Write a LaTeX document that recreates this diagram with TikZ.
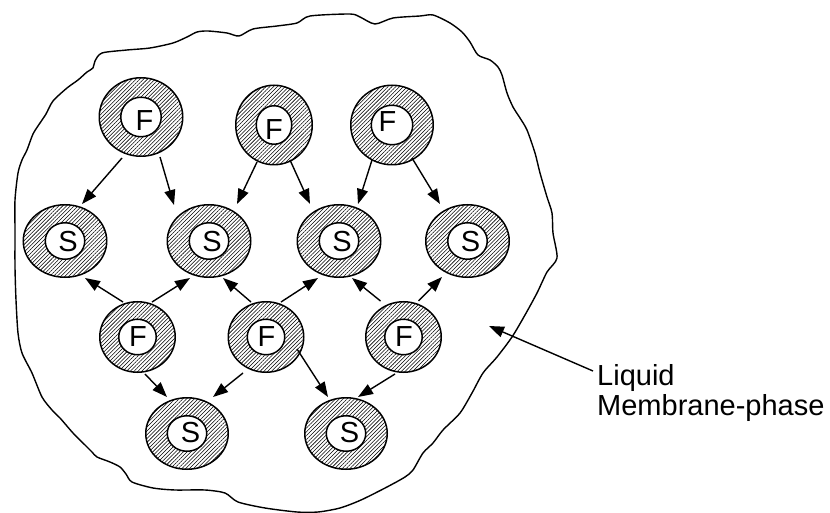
\documentclass[tikz,border=0pt]{standalone}
\usepackage{fontspec}
\setmainfont{Liberation Sans}
\usetikzlibrary{arrows.meta,patterns.meta,calc,shapes.geometric}

\begin{document}
\begin{tikzpicture}[x=1pt,y=-1pt,
  ring/.style={ellipse, draw=black, line width=1.5pt, inner sep=0pt,
    pattern={Lines[angle=45,distance=2.7pt,line width=0.55pt]}},
  core/.style={ellipse, draw=black, line width=1.5pt, fill=white, inner sep=0pt},
  letter/.style={inner sep=0pt, font=\fontsize{29pt}{30pt}\selectfont},
  flow/.style={line width=1.4pt, -{Triangle[length=15pt,width=11pt]}},
  blob/.style={line width=1.4pt, line join=round}
]
\useasboundingbox (0,0) rectangle (830,513);

% membrane outline
\draw[blob] plot[smooth cycle, tension=0.45] coordinates {
  (15,200) (15,230) (15,267) (16,300) (18,333) (22,353) (32,373) (42,397)
  (52,410) (60,418) (73,433) (85,445) (92,452) (97,457) (110,462) (120,467)
  (126,474) (132,482) (153,488) (175,490) (205,490) (225,493) (238,502)
  (265,508) (297,512) (318,512) (340,508) (361,500) (387,487) (405,477)
  (413,470) (423,453) (433,443) (443,430) (460,413) (472,393) (483,373)
  (497,357) (512,337) (525,315) (537,293) (547,272) (557,258) (553,233)
  (552,213) (547,197) (540,173) (535,153) (527,130) (520,118) (513,107)
  (507,93) (502,75) (498,67) (490,60) (478,55) (470,42) (462,32) (450,23)
  (433,15) (420,16) (393,18) (375,24) (360,17) (350,14) (310,16) (297,23)
  (277,26) (253,29) (239,36) (227,33) (208,31) (197,32) (187,37) (173,43)
  (150,48) (127,50) (102,53) (95,61) (93,68) (87,72) (78,80) (67,88)
  (53,101) (46,114) (40,123) (33,134) (27,150) (22,160) (18,173)};

% top row of F droplets
\node[ring, minimum width=83.5pt, minimum height=78.5pt] (F1) at (141,117) {};
\node[core, minimum width=40.5pt, minimum height=39.5pt] (F1c) at (F1) {};
\node[letter] (F1t) at ($(F1)+(3.5,4)$) {F};
\node[ring, minimum width=76.5pt, minimum height=79.5pt] (F2) at (274,125) {};
\node[core, minimum width=35.5pt, minimum height=38.5pt] (F2c) at (F2) {};
\node[letter] (F2t) at ($(F2)+(0,4.5)$) {F};
\node[ring, minimum width=82.5pt, minimum height=79.5pt] (F3) at (392,125) {};
\node[core, minimum width=41.5pt, minimum height=39.5pt] (F3c) at (F3) {};
\node[letter] (F3t) at ($(F3)+(-4.5,-3)$) {F};

% row of S droplets
\foreach \n/\x in {S1/65, S2/209, S3/339, S4/467.5} {
  \node[ring, minimum width=83.5pt, minimum height=72.5pt] (\n) at (\x,241) {};
  \node[core, minimum width=39.5pt, minimum height=36.5pt] (\n c) at (\n) {};
  \node[letter] (\n t) at ($(\n)+(3,1)$) {S};
}

% lower row of F droplets
\foreach \n/\x in {F4/137.5, F5/266, F6/403.5} {
  \node[ring, minimum width=75.5pt, minimum height=70.5pt] (\n) at (\x,337) {};
  \node[core, minimum width=37.5pt, minimum height=35.5pt] (\n c) at (\n) {};
  \node[letter] (\n t) at ($(\n)+(0.5,0)$) {F};
}

% bottom row of S droplets
\foreach \n/\x in {S5/187, S6/346} {
  \node[ring, minimum width=82.5pt, minimum height=71.5pt] (\n) at (\x,433.5) {};
  \node[core, minimum width=39.5pt, minimum height=35.5pt] (\n c) at (\n) {};
  \node[letter] (\n t) at ($(\n)+(3.5,-1)$) {S};
}

% transfer arrows
\draw[flow] ($(F1)+(-19,41)$) -- ($(S1)+(17,-37)$);
\draw[flow] ($(F1)+(19,40)$) -- ($(S2)+(-35,-36)$);
\draw[flow] ($(F2)+(-17,37)$) -- ($(S2)+(28,-37)$);
\draw[flow] ($(F2)+(16,35)$) -- ($(S3)+(-29,-37)$);
\draw[flow] ($(F3)+(-20,35)$) -- ($(S3)+(19,-37)$);
\draw[flow] ($(F3)+(20,33)$) -- ($(S4)+(-27.5,-37)$);
\draw[flow] ($(F4)+(-14.5,-35)$) -- ($(S1)+(20,37)$);
\draw[flow] ($(F4)+(14.5,-35)$) -- ($(S2)+(-19,37)$);
\draw[flow] ($(F5)+(-15,-35)$) -- ($(S2)+(14,37)$);
\draw[flow] ($(F5)+(15,-35)$) -- ($(S3)+(-21,37)$);
\draw[flow] ($(F6)+(-23,-36)$) -- ($(S3)+(13,37)$);
\draw[flow] ($(F6)+(15,-36)$) -- ($(S4)+(-25.5,36)$);
\draw[flow] ($(F4)+(7.5,37)$) -- ($(S5)+(-20,-36.5)$);
\draw[flow] ($(F5)+(-23,36)$) -- ($(S5)+(26,-36.5)$);
\draw[flow] ($(F5)+(31,12)$) -- ($(S6)+(-18,-36.5)$);
\draw[flow] ($(F6)+(-8.5,37)$) -- ($(S6)+(12,-36.5)$);

% label of the continuous phase
\node[letter, anchor=base west] (liq) at (597,385) {Liquid};
\node[letter, anchor=base west] (mem) at (597,415) {Membrane-phase};
\coordinate (mtip) at (489,326);
\draw[flow] ($(liq.west)+(-4,-6.5)$) -- (mtip);
\end{tikzpicture}
\end{document}
